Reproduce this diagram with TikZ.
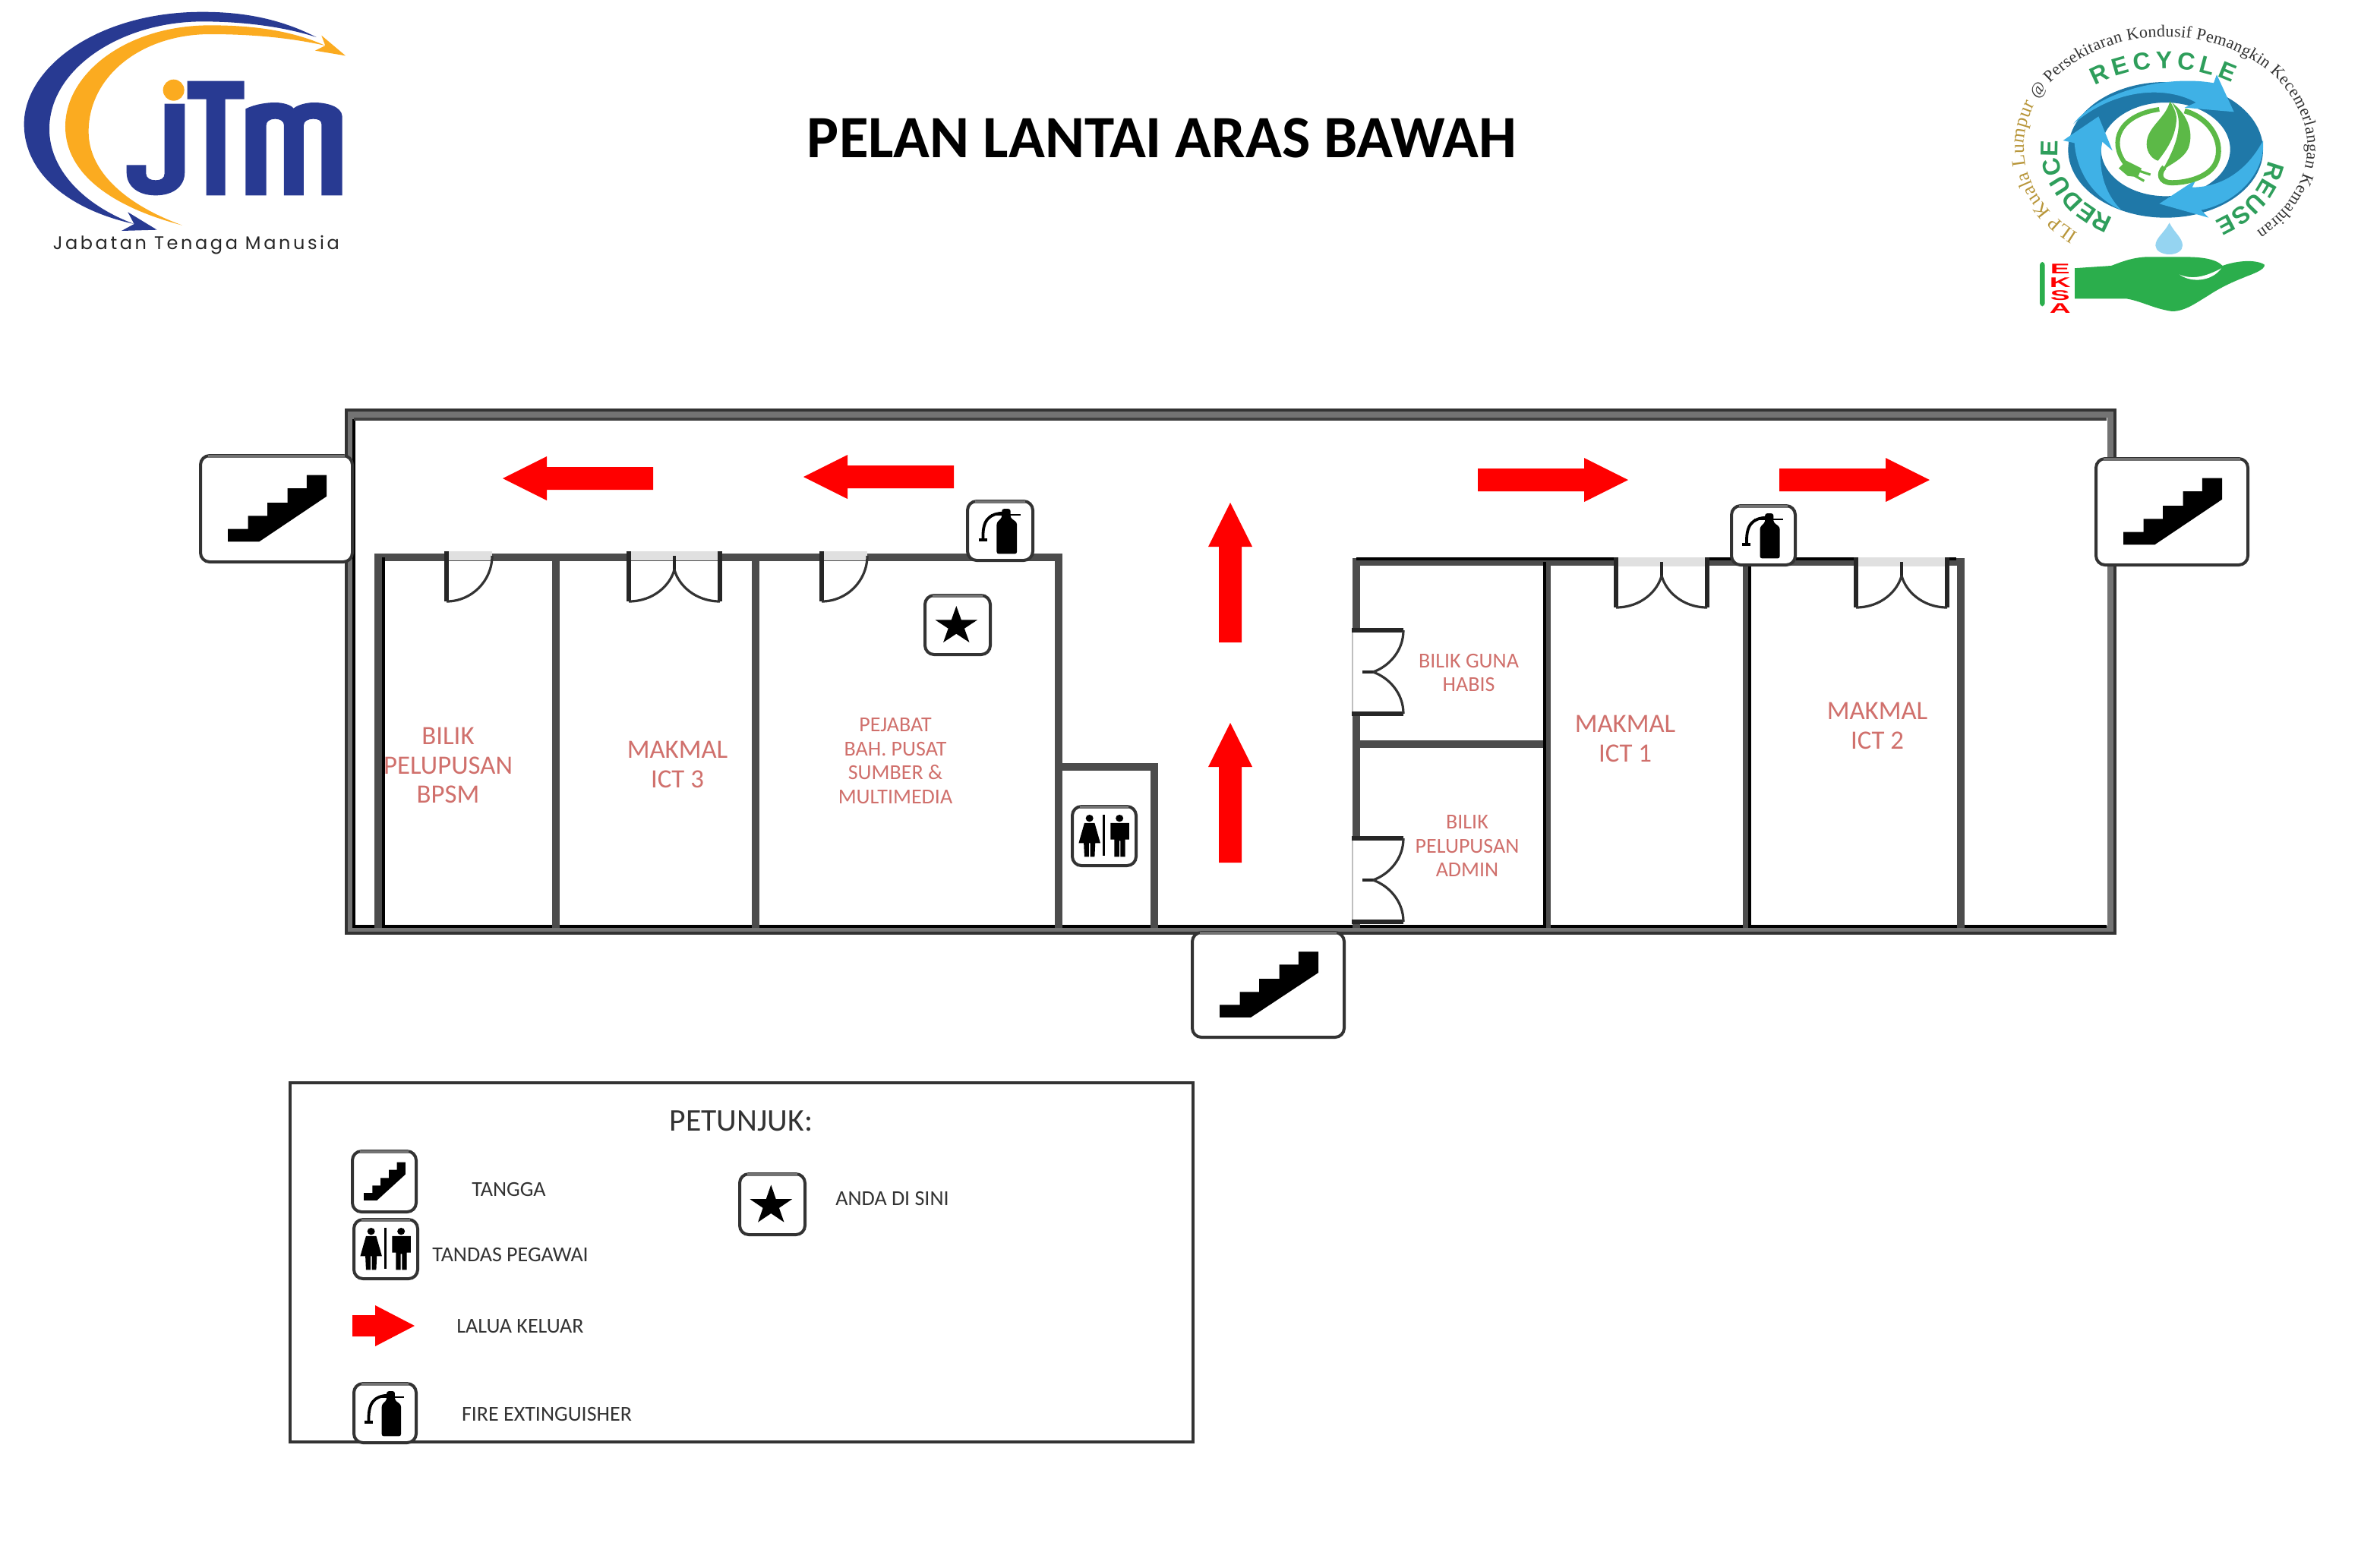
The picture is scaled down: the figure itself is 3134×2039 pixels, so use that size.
\documentclass[tikz,border=0pt]{standalone}
\usepackage{fontspec}
\usetikzlibrary{decorations.text}
\setmainfont{Carlito}
\newfontfamily\jtmfont[LetterSpace=15]{Poppins}
\newfontfamily\serifl{Liberation Serif}
\newfontfamily\sansl{Liberation Sans}
\definecolor{jblue}{HTML}{283A92}
\definecolor{jorange}{HTML}{FBAB20}
\definecolor{ringblue}{HTML}{1F78A8}
\definecolor{lightblue}{HTML}{3FB1E6}
\definecolor{leafgreen}{HTML}{5CB947}
\definecolor{handgreen}{HTML}{2BAE4C}
\definecolor{wordgreen}{HTML}{2E9E5B}
\definecolor{goldtxt}{HTML}{B8963A}
\definecolor{roomred}{HTML}{D0706C}
\definecolor{wallgray}{HTML}{4C4C4C}
\tikzset{
  wall/.style={draw=wallgray,line width=2.7pt,line cap=butt},
  wallblack/.style={draw=black,line width=1pt},
  jamb/.style={draw=black!85,line width=1.3pt},
  swing/.style={draw=black!80,line width=.8pt},
  iconbox/.style={draw=black!80,fill=white,line width=1pt,rounded corners=3pt},
  roomA/.style={text=roomred,align=center,font=\fontsize{8.7}{9.7}\selectfont,inner sep=0pt},
  roomB/.style={text=roomred,align=center,font=\fontsize{7}{7.9}\selectfont,inner sep=0pt},
  legendtxt/.style={text=black!80,font=\fontsize{7}{8}\selectfont,inner sep=0pt},
  glyph/.style={fill=black,draw=none},
  exit/.style={fill=red,draw=none},
  eksa/.style={text=red,font=\sansl\bfseries\fontsize{4.6}{4.6}\selectfont,inner sep=0pt,xscale=2.1,transform shape}
}
% door macros (x,y = top-left, pixels)
\newcommand{\singledoor}[2]{%
  \fill[black!12] (#1,#2-6) rectangle (#1+60,#2+6);
  \draw[jamb] (#1,#2-6) -- (#1,#2+60);
  \draw[swing] (#1,#2+60) .. controls (#1+33,#2+60) and (#1+60,#2+33) .. (#1+60,#2);
}
\newcommand{\doubledoor}[2]{%
  \fill[black!12] (#1,#2-6) rectangle (#1+120,#2+6);
  \draw[jamb] (#1,#2-6) -- (#1,#2+60);
  \draw[jamb] (#1+120,#2-6) -- (#1+120,#2+60);
  \draw[jamb,line width=1pt] (#1+60,#2) -- (#1+60,#2+22);
  \draw[swing] (#1,#2+60) .. controls (#1+33,#2+60) and (#1+55,#2+38) .. (#1+60,#2+18);
  \draw[swing] (#1+120,#2+60) .. controls (#1+87,#2+60) and (#1+65,#2+38) .. (#1+60,#2+18);
}
\newcommand{\sidedoor}[2]{%
  \fill[white] (#1-7,#2) rectangle (#1+7,#2+110);
  \draw[black!25,line width=.6pt] (#1-5,#2) -- (#1-5,#2+110);
  \draw[jamb] (#1-6,#2) -- (#1+62,#2);
  \draw[jamb] (#1-6,#2+110) -- (#1+62,#2+110);
  \draw[jamb,line width=1pt] (#1+8,#2+55) -- (#1+26,#2+55);
  \draw[swing] (#1+62,#2) .. controls (#1+62,#2+28) and (#1+42,#2+48) .. (#1+22,#2+55);
  \draw[swing] (#1+62,#2+110) .. controls (#1+62,#2+82) and (#1+42,#2+62) .. (#1+22,#2+55);
}
% exit arrow: tail x,y ; rotation ; length
\newcommand{\exitarrow}[4]{%
  \fill[exit,shift={(#1,#2)},rotate=#3] (0,-15) -- (#4-58,-15) -- (#4-58,-29) -- (#4,0) -- (#4-58,29) -- (#4-58,15) -- (0,15) -- cycle;
}
% icons: x1,y1,x2,y2 in pixels
\newcommand{\boxsetup}[4]{%
  \pgfmathsetmacro\iw{(#3-#1)*0.25}\pgfmathsetmacro\ih{(#4-#2)*0.25}%
  \draw[iconbox] (#1,#2) rectangle (#3,#4);
  \draw[draw=black!55,line width=1.2pt] (#1+10,#2+1) -- (#3-10,#2+1);
}
\newcommand{\stairsicon}[4]{\boxsetup{#1}{#2}{#3}{#4}%
  \begin{scope}[shift={(#1,#2)},x=\iw pt,y=-\ih pt]
    \fill[glyph] (.18,.69) -- (.313,.69) -- (.313,.567) -- (.441,.567) -- (.441,.443) -- (.573,.443) -- (.573,.307) -- (.699,.307) -- (.699,.183) -- (.831,.183) -- (.831,.383) -- (.386,.81) -- (.18,.81) -- cycle;
  \end{scope}}
\newcommand{\exticon}[4]{\boxsetup{#1}{#2}{#3}{#4}%
  \begin{scope}[shift={(#1,#2)},x=\iw pt,y=-\ih pt]
    \fill[glyph,rounded corners=.7pt] (.447,.89) -- (.447,.36) -- (.526,.28) -- (.526,.13) -- (.658,.13) -- (.658,.28) -- (.757,.36) -- (.757,.89) -- cycle;
    \draw[black,line width=.6pt] (.36,.23) -- (.81,.23);
    \draw[black,line width=.95pt] (.24,.66) .. controls (.22,.32) and (.33,.21) .. (.55,.2);
    \draw[black,line width=.95pt] (.17,.65) -- (.3,.65);
  \end{scope}}
\newcommand{\staricon}[4]{\boxsetup{#1}{#2}{#3}{#4}%
  \begin{scope}[shift={(#1,#2)},x=\iw pt,y=-\ih pt]
    \fill[glyph] (.48,.18) -- (.556,.415) -- (.803,.415) -- (.604,.56) -- (.68,.795) -- (.48,.65) -- (.28,.795) -- (.356,.56) -- (.157,.415) -- (.404,.415) -- cycle;
  \end{scope}}
\newcommand{\toileticon}[4]{\boxsetup{#1}{#2}{#3}{#4}%
  \begin{scope}[shift={(#1,#2)},x=\iw pt,y=-\ih pt]
    \draw[black,line width=.8pt] (.497,.14) -- (.497,.83);
    \fill[glyph] (.27,.2) circle[radius=.06];
    \fill[glyph] (.19,.28) -- (.35,.28) -- (.44,.62) -- (.36,.62) -- (.35,.85) -- (.28,.85) -- (.28,.62) -- (.26,.62) -- (.26,.85) -- (.19,.85) -- (.18,.62) -- (.1,.62) -- cycle;
    \fill[glyph] (.74,.2) circle[radius=.06];
    \fill[glyph] (.6,.28) -- (.89,.28) -- (.89,.56) -- (.83,.56) -- (.83,.85) -- (.755,.85) -- (.755,.58) -- (.735,.58) -- (.735,.85) -- (.66,.85) -- (.66,.56) -- (.6,.56) -- cycle;
  \end{scope}}
\begin{document}
\begin{tikzpicture}[x=0.25pt,y=-0.25pt]
\useasboundingbox (0,0) rectangle (3134,2039);
\fill[white] (0,0) rectangle (3134,2039);

% ---------- JTM logo ----------
\begin{scope}[x=0.083333pt,y=-0.083333pt]
  \fill[jblue] (1250,147) .. controls (1100,70) and (950,47) .. (800,47) .. controls (380,47) and (95,270) .. (95,490) .. controls (95,690) and (280,830) .. (530,885) .. controls (330,810) and (195,670) .. (195,510) .. controls (195,270) and (480,85) .. (800,85) .. controls (960,85) and (1120,105) .. (1250,147) -- cycle;
  \fill[jblue] (505,838) -- (620,908) -- (480,912) -- (530,885) -- cycle;
  \fill[jorange] (1285,180) .. controls (1150,120) and (1000,100) .. (830,100) .. controls (500,100) and (258,290) .. (258,500) .. controls (258,690) and (450,820) .. (720,890) .. controls (500,810) and (350,680) .. (350,520) .. controls (350,300) and (560,135) .. (830,135) .. controls (1000,135) and (1150,150) .. (1285,180) -- cycle;
  \fill[jorange] (1270,140) -- (1365,220) -- (1245,200) -- (1285,180) -- cycle;
  \fill[jorange] (686,356) circle[radius=42];
  \fill[jblue] (650,410) -- (730,410) -- (730,680) .. controls (730,740) and (680,772) .. (615,772) .. controls (550,772) and (500,740) .. (500,680) -- (500,652) -- (577,652) -- (577,685) .. controls (577,705) and (595,712) .. (615,712) .. controls (635,712) and (650,705) .. (650,685) -- cycle;
  \fill[jblue] (740,320) -- (965,320) -- (965,392) -- (890,392) -- (890,772) -- (815,772) -- (815,392) -- (740,392) -- cycle;
  \fill[jblue] (970,430) .. controls (1010,410) and (1060,405) .. (1085,405) .. controls (1120,405) and (1150,415) .. (1160,428) .. controls (1175,415) and (1210,405) .. (1240,405) .. controls (1290,405) and (1350,420) .. (1352,460) -- (1352,772) -- (1270,772) -- (1270,490) .. controls (1270,475) and (1255,470) .. (1238,470) .. controls (1215,470) and (1200,480) .. (1200,495) -- (1200,772) -- (1122,772) -- (1122,495) .. controls (1122,478) and (1105,470) .. (1088,470) .. controls (1065,470) and (1052,480) .. (1052,495) -- (1052,772) -- (970,772) -- cycle;
  \node[text=black!85,font=\jtmfont\fontsize{6}{7}\selectfont,inner sep=0pt] (jtmname) at (775,967) {Jabatan Tenaga Manusia};
\end{scope}

% ---------- Title ----------
\node[font=\bfseries\fontsize{19.75}{22}\selectfont,inner sep=0pt] (title) at (1530,182) {PELAN LANTAI ARAS BAWAH};

% ---------- EKSA / 3R logo ----------
\begin{scope}[shift={(2620,20)}]
\begin{scope}[x=0.083333pt,y=-0.083333pt]
  \fill[ringblue,even odd rule] (695,532) ellipse[x radius=385,y radius=268] (695,530) ellipse[x radius=255,y radius=185];
  \fill[lightblue] (330,430) .. controls (430,300) and (700,235) .. (885,268) -- (897,235) -- (965,382) -- (770,365) -- (815,345) .. controls (700,280) and (500,285) .. (330,430) -- cycle;
  \fill[lightblue] (1080,495) .. controls (1090,620) and (980,740) .. (835,770) -- (865,800) -- (670,745) -- (815,650) -- (800,680) .. controls (920,680) and (1020,610) .. (1080,495) -- cycle;
  \fill[lightblue] (520,770) .. controls (430,730) and (345,640) .. (335,505) -- (290,495) -- (430,400) -- (485,535) -- (445,500) .. controls (425,600) and (450,700) .. (520,770) -- cycle;
  % leaf and cord
  \fill[leafgreen] (712,340) .. controls (695,410) and (620,440) .. (620,510) .. controls (620,545) and (645,570) .. (665,575) .. controls (700,530) and (735,480) .. (738,410) .. controls (738,385) and (725,360) .. (712,340) -- cycle;
  \fill[leafgreen] (720,345) .. controls (790,400) and (805,470) .. (785,525) .. controls (765,570) and (710,590) .. (680,615) .. controls (720,550) and (755,470) .. (745,405) .. controls (742,385) and (732,365) .. (720,345) -- cycle;
  \draw[leafgreen,line width=1.5pt] (535,585) .. controls (470,500) and (510,395) .. (670,372);
  \draw[leafgreen,line width=1.7pt] (770,378) .. controls (880,410) and (925,510) .. (895,580) .. controls (870,640) and (780,662) .. (720,662) .. controls (670,662) and (665,625) .. (690,600);
  \fill[leafgreen] (540,575) -- (600,605) -- (585,640) -- (545,635) -- (510,605) -- cycle;
  \draw[leafgreen,line width=.8pt] (590,615) -- (635,630) (575,635) -- (610,655);
  % drop and hand
  \fill[lightblue!55] (710,820) .. controls (690,860) and (655,880) .. (655,910) .. controls (655,930) and (680,945) .. (710,945) .. controls (740,945) and (762,930) .. (762,910) .. controls (762,880) and (730,860) .. (710,820) -- cycle;
  \fill[handgreen] (330,1000) -- (480,990) .. controls (520,975) and (560,958) .. (620,955) -- (760,955) .. controls (830,955) and (890,960) .. (920,990) .. controls (960,975) and (1040,960) .. (1085,985) .. controls (1090,1000) and (1060,1015) .. (1020,1030) .. controls (970,1050) and (920,1070) .. (860,1110) .. controls (810,1140) and (770,1170) .. (720,1170) .. controls (650,1160) and (600,1130) .. (540,1120) -- (330,1120) -- cycle;
  \fill[white] (750,1025) .. controls (800,1045) and (850,1035) .. (915,1000) .. controls (880,1050) and (800,1060) .. (750,1025) -- cycle;
  \fill[white] (225,970) rectangle (335,1185);
  \fill[handgreen,rounded corners=1pt] (198,975) rectangle (218,1150);
  \node[eksa] (eksaE) at (278,1002) {E};
  \node[eksa] (eksaK) at (278,1057) {K};
  \node[eksa] (eksaS) at (278,1108) {S};
  \node[eksa] (eksaA) at (278,1158) {A};
  % curved words
  \path[decorate,decoration={text along path,text align={fit to path},
     text={|\serifl\fontsize{6.4}{7}\selectfont\color{goldtxt}|ILP Kuala Lumpur |\serifl\fontsize{5.5}{7}\selectfont\color{black!80}|@ Persekitaran Kondusif Pemangkin Kecemerlangan Kemahiran}}]
     plot[domain=128:410,samples=90] ({695+560*cos(\x)},{520+435*sin(\x)});
  \path[decorate,decoration={text along path,text align={fit to path},
     text={|\sansl\bfseries\fontsize{8}{9}\selectfont\color{wordgreen}|RECYCLE}}]
     plot[domain=232:305,samples=40] ({695+455*cos(\x)},{530+320*sin(\x)});
  \path[decorate,decoration={text along path,text align={fit to path},
     text={|\sansl\bfseries\fontsize{8}{9}\selectfont\color{wordgreen}|REDUCE}}]
     plot[domain=119:185,samples=40] ({695+425*cos(\x)},{530+310*sin(\x)});
  \path[decorate,decoration={text along path,text align={fit to path},
     text={|\sansl\bfseries\fontsize{8}{9}\selectfont\color{wordgreen}|REUSE}}]
     plot[domain=8:61,samples=40] ({695+410*cos(\x)},{530+320*sin(\x)});
\end{scope}
\end{scope}

% ---------- Outer wall ----------
\draw[draw=black!55,line width=3pt] (460,544) rectangle (2781,1225);
\draw[draw=black!80,line width=.9pt] (456,540) rectangle (2785,1229);
\draw[draw=black,line width=1pt] (466,552) -- (466,1220) -- (2774,1220);
\draw[draw=black!75,line width=.8pt] (466,552) -- (2774,552);

% ---------- Left rooms ----------
\draw[wall] (498,1222) -- (498,734) -- (1394,734) -- (1394,1222);
\draw[wall] (732,734) -- (732,1222);
\draw[wall] (995,734) -- (995,1222);
\draw[wall] (1394,1010) -- (1520,1010) -- (1520,1222);
\draw[wallblack] (505,734) -- (505,1222);

% ---------- Right rooms ----------
\draw[wall] (1786,1222) -- (1786,740) -- (2582,740) -- (2582,1222);
\draw[wall] (2037,740) -- (2037,1222);
\draw[wall] (2300,740) -- (2300,1222);
\draw[wall] (1786,980) -- (2037,980);
\draw[wallblack] (2034,740) -- (2034,1222);
\draw[wallblack] (2304,740) -- (2304,1222);
\draw[wallblack] (1786,736) -- (2576,736);

% ---------- Doors ----------
\singledoor{588}{732}
\doubledoor{828}{732}
\singledoor{1082}{732}
\doubledoor{2128}{740}
\doubledoor{2444}{740}
\sidedoor{1786}{830}
\sidedoor{1786}{1104}

% ---------- Icons on plan ----------
\stairsicon{264}{600}{464}{740}
\stairsicon{2760}{604}{2960}{744}
\stairsicon{1570}{1228}{1770}{1366}
\exticon{1274}{660}{1360}{738}
\exticon{2280}{666}{2364}{744}
\staricon{1218}{784}{1304}{862}
\toileticon{1412}{1062}{1496}{1140}

% ---------- Exit arrows ----------
\exitarrow{860}{630}{180}{198}
\exitarrow{1256}{628}{180}{198}
\exitarrow{1946}{632}{0}{198}
\exitarrow{2343}{632}{0}{198}
\exitarrow{1620}{846}{90}{184}
\exitarrow{1620}{1136}{90}{184}

% ---------- Room labels ----------
\node[roomA] (rbpsm) at (590,1008) {BILIK\\PELUPUSAN\\BPSM};
\node[roomA] (rict3) at (892,1007) {MAKMAL\\ICT 3};
\node[roomB] (rpej) at (1179,1002) {PEJABAT\\BAH. PUSAT\\SUMBER \&\\MULTIMEDIA};
\node[roomB] (rguna) at (1934,886) {BILIK GUNA\\HABIS};
\node[roomB] (radmin) at (1932,1114) {BILIK\\PELUPUSAN\\ADMIN};
\node[roomA] (rict1) at (2140,973) {MAKMAL\\ICT 1};
\node[roomA] (rict2) at (2472,956) {MAKMAL\\ICT 2};

% ---------- Legend ----------
\draw[draw=black!80,line width=1.1pt] (382,1426) rectangle (1571,1899);
\node[text=black!80,font=\fontsize{10.4}{12}\selectfont,inner sep=0pt] (lhead) at (976,1476) {PETUNJUK:};
\stairsicon{464}{1516}{548}{1596}
\toileticon{466}{1606}{550}{1684}
\fill[exit] (464,1732) -- (494,1732) -- (494,1719) -- (546,1746) -- (494,1773) -- (494,1760) -- (464,1760) -- cycle;
\exticon{466}{1822}{548}{1900}
\staricon{974}{1546}{1060}{1626}
\node[legendtxt] (ltangga) at (670,1566) {TANGGA};
\node[legendtxt] (ltandas) at (672,1652) {TANDAS PEGAWAI};
\node[legendtxt] (llaluan) at (685,1747) {LALUA KELUAR};
\node[legendtxt] (lfire) at (720,1862) {FIRE EXTINGUISHER};
\node[legendtxt] (landa) at (1175,1578) {ANDA DI SINI};
\end{tikzpicture}
\end{document}
